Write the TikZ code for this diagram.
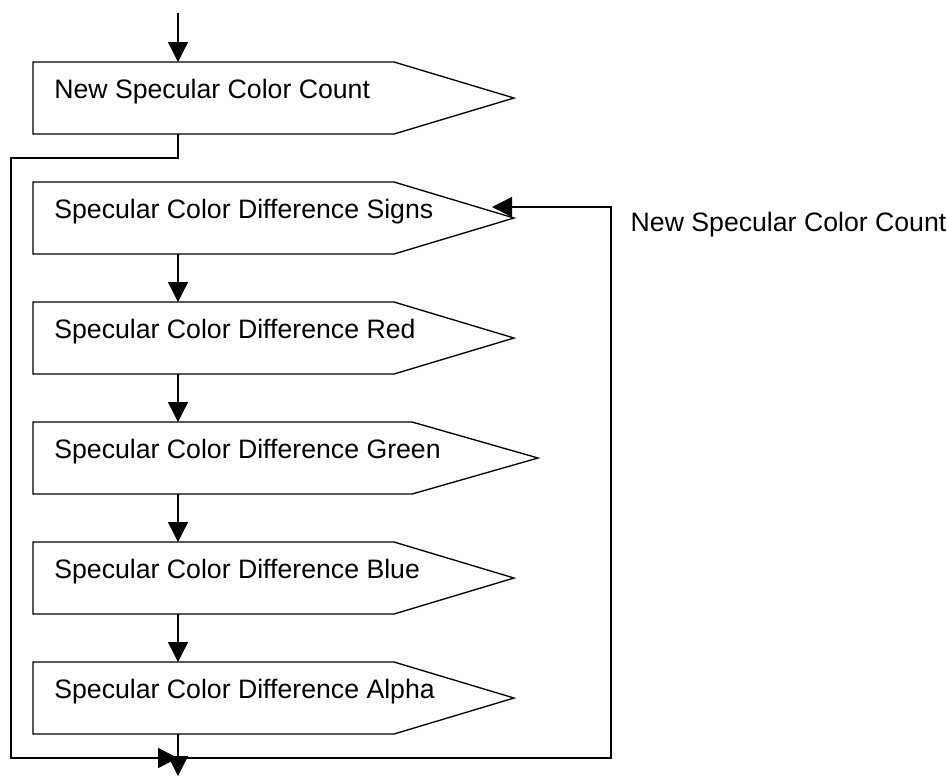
\documentclass[tikz,border=0pt]{standalone}
\usepackage{fontspec}
\setmainfont{Liberation Sans}
\usetikzlibrary{positioning,arrows.meta,shapes.symbols,calc}

\begin{document}
\begin{tikzpicture}[x=0.75pt, y=-0.75pt, line width=1pt,
    font=\fontsize{20}{24}\selectfont,
    spec/.style={draw, shape=signal, signal to=east, signal from=nowhere,
      minimum height=54pt, minimum width=360.75pt, inner sep=0pt,
      outer sep=0pt, signal pointer angle=33.4, anchor=west},
    boxtext/.style={anchor=base west, inner sep=0pt, xshift=15.5pt},
    flow/.style={-{Triangle[length=15pt,width=15pt]}}]
  \useasboundingbox (0,0) rectangle (948,776);
    % stream boxes
    \node[spec] (cnt) at (33,98)  {};
    \node[spec] (sgn) at (33,218) {};
    \node[spec] (red) at (33,338) {};
    \node[spec, minimum width=378.75pt, signal pointer angle=31.9] (grn) at (33,458) {};
    \node[spec] (blu) at (33,578) {};
    \node[spec] (alp) at (33,698) {};
    \node[boxtext] (cnt-t) at (cnt.west) {New Specular Color Count};
    \node[boxtext] (sgn-t) at (sgn.west) {Specular Color Difference Signs};
    \node[boxtext] (red-t) at (red.west) {Specular Color Difference Red};
    \node[boxtext] (grn-t) at (grn.west) {Specular Color Difference Green};
    \node[boxtext] (blu-t) at (blu.west) {Specular Color Difference Blue};
    \node[boxtext] (alp-t) at (alp.west) {Specular Color Difference Alpha};
    \node[anchor=base west, inner sep=0pt] (loop-t) at (630,231)
      {New Specular Color Count};
    % connectors
    \coordinate (in)   at (178,13);
    \coordinate (lft)  at (11,158);
    \coordinate (join) at (178,758);
    \coordinate (rgt)  at (611,207);
    \coordinate (out)  at (178,776);
    \draw[flow] (in) -- (in |- cnt.north);
    \draw[flow] (in |- cnt.south) |- (lft) |- (join);
    \foreach \a/\b in {sgn/red, red/grn, grn/blu, blu/alp}{
      \draw[flow] (in |- \a.south) -- (in |- \b.north);
    }
    \draw[flow] (in |- alp.south) -- (out);
    \draw[flow] (join) -| (rgt) -- ($(sgn.east)+(-22,-11)$);
\end{tikzpicture}
\end{document}
